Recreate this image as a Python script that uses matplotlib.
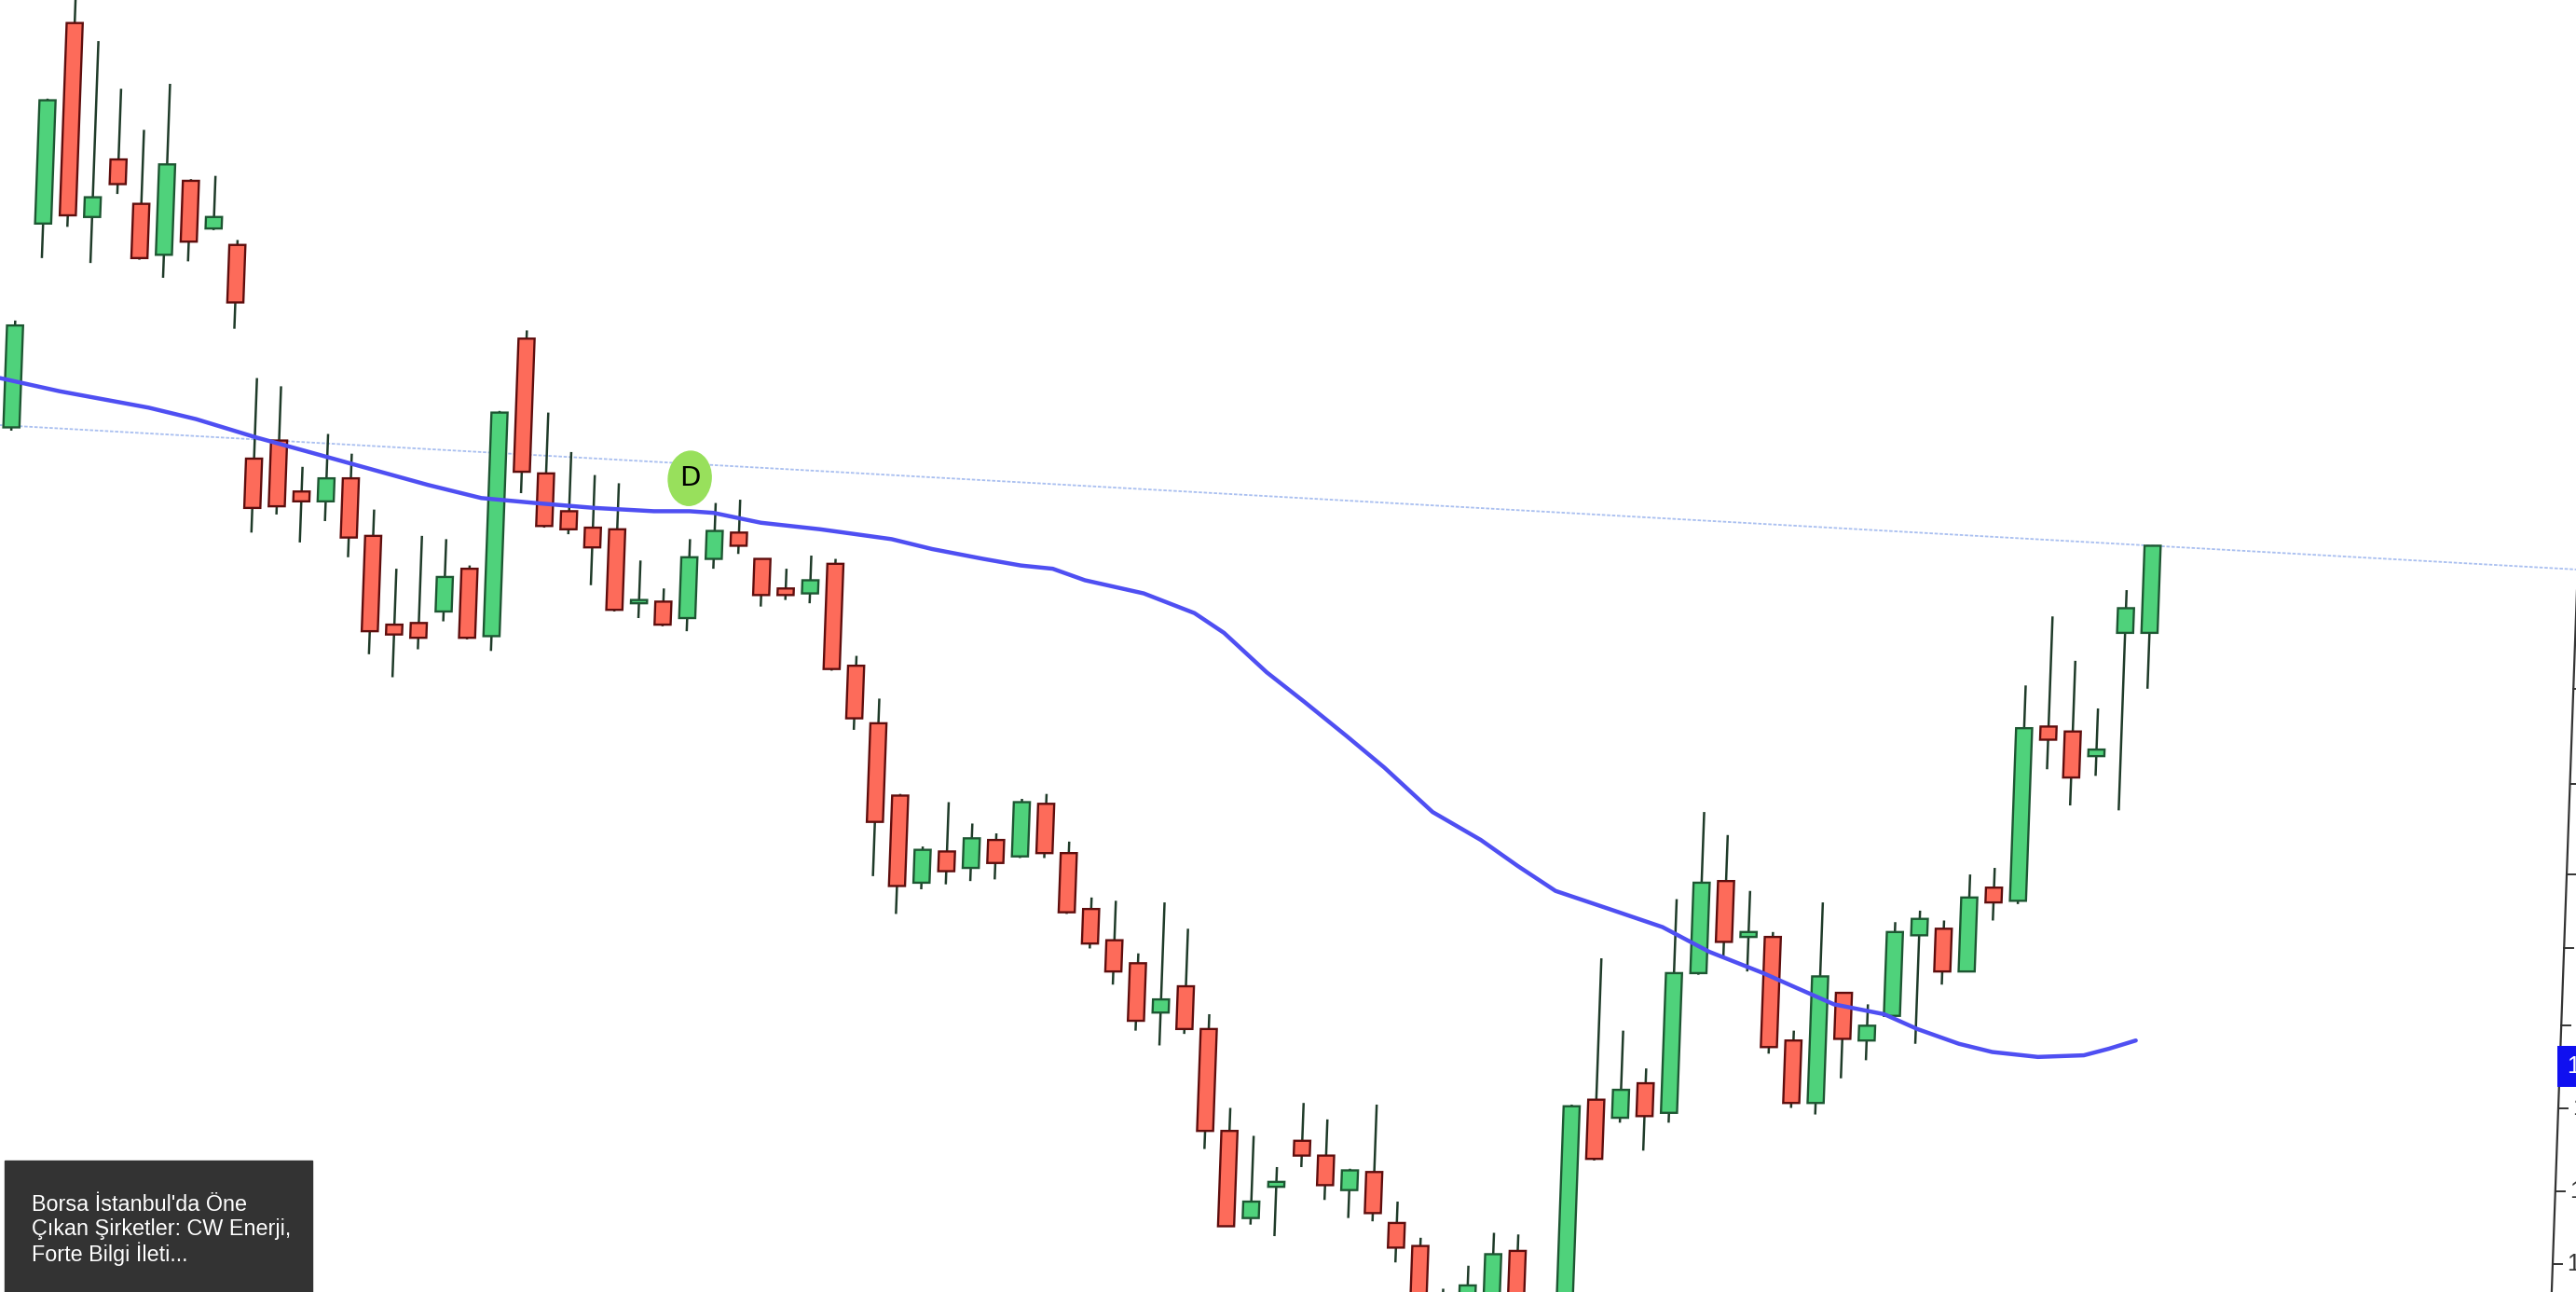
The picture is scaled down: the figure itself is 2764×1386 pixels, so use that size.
import matplotlib.pyplot as plt
from matplotlib.patches import Ellipse, Rectangle
from matplotlib.transforms import Affine2D
import numpy as np

# daily candles (price units)
opens = [15.26, 16.50, 17.72, 16.54, 16.89, 16.62, 16.31, 16.76, 16.47, 16.37,
         15.07, 15.18, 14.87, 14.81, 14.95, 14.60, 14.06, 14.07, 14.14, 14.40,
         13.99, 15.80, 14.98, 14.75, 14.65, 14.64, 14.19, 14.20, 14.10, 14.46,
         14.62, 14.46, 14.28, 14.25, 14.43, 13.81, 13.46, 13.02, 12.49, 12.68,
         12.58, 12.75, 12.65, 12.97, 12.67, 12.33, 12.14, 12.00, 11.70, 11.86,
         11.60, 10.98, 10.45, 10.64, 10.92, 10.83, 10.62, 10.73, 10.42, 10.28,
         9.95, 9.76, 9.86, 10.25, 9.85, 9.66, 11.17, 11.06, 11.27, 11.09,
         11.94, 12.50, 12.16, 12.16, 11.53, 11.15, 11.82, 11.53, 11.68, 12.17,
         12.21, 11.95, 12.46, 12.38, 13.44, 13.41, 13.26, 14.01, 14.01]
highs = [15.91, 17.26, 17.91, 17.61, 17.32, 17.07, 17.35, 16.77, 16.79, 16.40,
         15.56, 15.51, 15.02, 15.22, 15.10, 14.76, 14.40, 14.60, 14.58, 14.42,
         15.36, 15.85, 15.35, 15.11, 14.97, 14.92, 14.45, 14.28, 14.58, 14.80,
         14.82, 14.46, 14.40, 14.48, 14.46, 13.87, 13.61, 13.03, 12.71, 12.98,
         12.85, 12.79, 13.00, 13.03, 12.74, 12.40, 12.38, 12.06, 12.37, 12.21,
         11.69, 11.12, 10.95, 10.76, 11.15, 11.05, 10.75, 11.14, 10.55, 10.33,
         10.02, 10.16, 10.36, 10.35, 9.95, 11.14, 12.03, 11.59, 11.36, 12.39,
         12.92, 12.78, 12.44, 12.19, 11.59, 12.37, 11.82, 11.75, 12.25, 12.32,
         12.26, 12.54, 12.58, 13.69, 14.11, 13.84, 13.55, 14.27, 14.54]
lows = [15.24, 16.29, 16.48, 16.26, 16.68, 16.28, 16.17, 16.27, 16.46, 15.86,
        14.62, 14.73, 14.56, 14.69, 14.47, 13.88, 13.74, 13.91, 14.08, 13.97,
        13.90, 14.86, 14.65, 14.61, 14.30, 14.14, 14.10, 14.05, 14.02, 14.40,
        14.49, 14.17, 14.21, 14.19, 13.78, 13.42, 12.53, 12.30, 12.45, 12.48,
        12.50, 12.51, 12.64, 12.64, 12.30, 12.09, 11.87, 11.59, 11.50, 11.57,
        10.87, 10.40, 10.41, 10.34, 10.76, 10.56, 10.45, 10.43, 10.18, 9.74,
        9.60, 9.70, 9.80, 9.78, 9.60, 9.55, 10.80, 11.03, 10.86, 11.03,
        11.93, 12.04, 11.95, 11.45, 11.12, 11.08, 11.30, 11.41, 11.68, 11.51,
        11.87, 11.95, 12.26, 12.36, 13.18, 12.96, 13.14, 12.93, 13.67]
closes = [15.88, 17.25, 16.55, 16.66, 16.74, 16.29, 16.86, 16.39, 16.54, 16.02,
          14.77, 14.78, 14.81, 14.95, 14.59, 14.02, 14.00, 13.98, 14.35, 13.98,
          15.35, 14.99, 14.66, 14.64, 14.53, 14.15, 14.21, 14.06, 14.47, 14.63,
          14.54, 14.24, 14.24, 14.33, 13.79, 13.49, 12.86, 12.47, 12.69, 12.56,
          12.76, 12.61, 12.98, 12.67, 12.31, 12.12, 11.95, 11.65, 11.78, 11.60,
          10.98, 10.40, 10.55, 10.67, 10.83, 10.65, 10.74, 10.48, 10.27, 9.86,
          9.70, 10.04, 10.23, 9.86, 9.75, 11.13, 10.81, 11.23, 11.07, 11.94,
          12.49, 12.13, 12.19, 11.49, 11.15, 11.92, 11.54, 11.62, 12.19, 12.27,
          11.95, 12.40, 12.37, 13.43, 13.36, 13.13, 13.30, 14.16, 14.54]

# moving average (bar position, value)
ma_pos = [-0.54, 1.92, 5.60, 7.57, 10.03, 12.99, 15.20, 17.17, 19.38, 21.59,
          24.03, 26.48, 27.94, 28.92, 30.88, 33.33, 36.27, 37.94, 40.06, 41.60,
          42.92, 44.26, 46.69, 48.80, 50.04, 51.85, 53.44, 55.24, 56.82, 58.86,
          60.88, 62.45, 64.02, 66.25, 68.46, 70.41, 72.66, 74.05, 75.61, 77.68,
          79.06, 80.79, 82.17, 84.05, 85.93, 86.95, 88.04]
ma_val = [15.56, 15.48, 15.38, 15.31, 15.20, 15.08, 14.99, 14.91, 14.83, 14.80,
          14.77, 14.75, 14.75, 14.74, 14.68, 14.64, 14.58, 14.52, 14.46, 14.42,
          14.40, 14.33, 14.25, 14.13, 14.01, 13.77, 13.59, 13.38, 13.19, 12.92,
          12.75, 12.59, 12.44, 12.33, 12.22, 12.07, 11.94, 11.85, 11.75, 11.69,
          11.60, 11.51, 11.46, 11.43, 11.44, 11.48, 11.53]

# trend line anchors (bar, price)
trend_x = [0, 88]
trend_y = [15.27, 14.54]

# price axis ticks (mostly off the picture)
tick_vals = [10.17, 10.61, 11.12, 11.62, 12.09, 12.54, 13.09, 13.67, 14.22, 14.80]

marker_bar, marker_price, marker_label = 27.9, 14.95, 'D'
ma_label_price = 11.37
news_text = "Borsa İstanbul'da Öne\nÇıkan Şirketler: CW Enerji,\nForte Bilgi İleti..."

o = np.array(opens); h = np.array(highs); l = np.array(lows); c = np.array(closes)
x = np.arange(len(o))
up = c >= o

W, H = 2764, 1386
fig = plt.figure(figsize=(W / 100, H / 100), dpi=100)
ax = fig.add_axes([0, 0, 1, 1])
ax.set_xlim(-1.098, 104.56)
ax.set_ylim(10.0, 17.86)
ax.set_axis_off()

# the screenshot is slightly slanted: shear everything sideways (pixels)
k = 0.036
tr = ax.transData + Affine2D().skew(np.arctan(k), 0).translate(-k * H, 0)

# trendline (faint), extended across the chart
slope = (trend_y[1] - trend_y[0]) / (trend_x[1] - trend_x[0])
tx = np.array([-5.0, 110.0])
ax.plot(tx, trend_y[0] + slope * (tx - trend_x[0]), color='#a9bff0', lw=1.3,
        ls=(0, (2, 1)), zorder=1, transform=tr)

# wicks then bodies
wicks = ax.vlines(x, l, h, color='#1f3b29', lw=1.8, zorder=2)
wicks.set_transform(tr)
body_lo = np.minimum(o, c)
body_h = np.maximum(np.abs(c - o), 0.02)
bars_up = ax.bar(x[up], body_h[up], bottom=body_lo[up], width=0.66, color='#4fd27b',
                 edgecolor='#1d5632', lw=1.7, zorder=3)
bars_dn = ax.bar(x[~up], body_h[~up], bottom=body_lo[~up], width=0.66, color='#fd6b5a',
                 edgecolor='#5e0d0d', lw=1.7, zorder=3)
for p in list(bars_up) + list(bars_dn):
    p.set_transform(tr)

# moving average
ax.plot(ma_pos, ma_val, color='#4f4ff2', lw=3.2, zorder=4, transform=tr,
        solid_capstyle='round', solid_joinstyle='round')

# D marker
ell = Ellipse((marker_bar, marker_price), 1.76, 0.33, color='#98e05c', zorder=5)
ax.add_patch(ell)
ell.set_transform(tr)
ax.text(marker_bar, marker_price, marker_label, ha='center', va='center',
        fontsize=21, color='black', family='Liberation Sans Narrow', zorder=6, transform=tr)

# right price axis, slanted like the rest and cut by the picture edge
ax_x = 105.47
ax.plot([ax_x, ax_x], [9.5, 18.5], color='#333333', lw=1.6, clip_on=False, transform=tr)
for v in tick_vals:
    ax.plot([ax_x, ax_x + 0.38], [v, v], color='#333333', lw=1.4, clip_on=False, transform=tr)
    ax.text(ax_x + 0.58, v, f'{v:.2f}', ha='left', va='center', fontsize=18,
            color='#333333', family='Liberation Sans', clip_on=False, transform=tr)
ax.text(ax_x + 0.28, ma_label_price, f'{ma_val[-1]:.2f}', ha='left', va='center',
        fontsize=18, color='white', family='Liberation Sans', zorder=7, transform=tr,
        bbox=dict(boxstyle='square,pad=0.4', fc='#1010f0', ec='none'))

# news box bottom-left
fig.patches.append(Rectangle((5 / W, 0), 330 / W, 141 / H,
                             transform=fig.transFigure, color='#333333', zorder=10))
fig.text(34 / W, 1 - 1281 / H, news_text, ha='left', va='top', color='white',
         fontsize=16.8, family='Liberation Sans', linespacing=1.15, zorder=11)

plt.savefig('out.png', dpi=100)
